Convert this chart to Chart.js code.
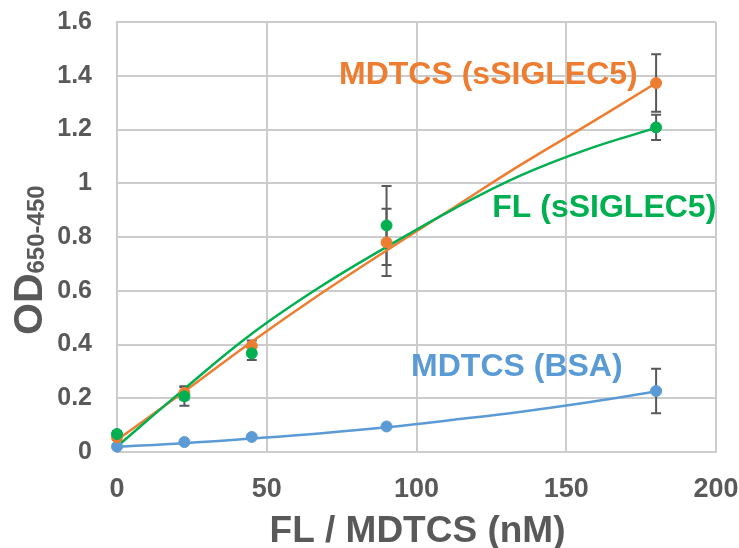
<!DOCTYPE html>
<html>
<head>
<meta charset="utf-8">
<script src="https://cdn.jsdelivr.net/npm/chart.js@4.4.1/dist/chart.umd.min.js"></script>
<style>
  html, body { margin: 0; padding: 0; background: #fff; }
  #wrap { width: 739px; height: 548px; }
</style>
</head>
<body>
<div id="wrap"><canvas id="chart"></canvas></div>
<script>
// measured points (nM vs OD)
const concentrations = [0, 22.5, 45, 90, 180];
const mdtcsSiglec5 = [0.055, 0.22, 0.395, 0.78, 1.373];
const mdtcsSiglec5Err = [0.01, 0.025, 0.02, 0.125, 0.107];
const flSiglec5 = [0.067, 0.207, 0.367, 0.843, 1.208];
const flSiglec5Err = [0.01, 0.035, 0.025, 0.147, 0.047];
const mdtcsBsa = [0.02, 0.037, 0.056, 0.095, 0.227];
const mdtcsBsaErr = [0, 0, 0, 0, 0.083];

// trend lines
const fitX = [0, 22.5, 45, 67.5, 90, 112.5, 135, 157.5, 180];
const mdtcsSiglec5Fit = [0.045, 0.225, 0.41, 0.585, 0.75, 0.91, 1.07, 1.22, 1.373];
const flSiglec5Fit = [0.02, 0.235, 0.44, 0.612, 0.763, 0.905, 1.03, 1.128, 1.206];
const mdtcsBsaFit = [0.02, 0.033, 0.05, 0.069, 0.092, 0.12, 0.15, 0.185, 0.225];

const seriesNames = ['MDTCS (sSIGLEC5)', 'FL (sSIGLEC5)', 'MDTCS (BSA)'];
const seriesColors = ['#ED7D31', '#00B050', '#5B9BD5'];

const xTicks = [0, 50, 100, 150, 200];
const yTicks = [0, 0.2, 0.4, 0.6, 0.8, 1, 1.2, 1.4, 1.6];
const xTitle = 'FL / MDTCS (nM)';

// where the in-plot series labels sit (data units, label centre)
const labelAnchors = [[124, 1.403], [162.7, 0.908], [133.5, 0.316]];

const textColor = '#595959';
const gridColor = '#cccccc';
const boldFont = '"Liberation Sans", Arial, sans-serif';

const pts = (xs, ys) => xs.map((x, i) => ({ x: x, y: ys[i] }));

const errorSets = [
  { values: mdtcsSiglec5, err: mdtcsSiglec5Err },
  { values: flSiglec5, err: flSiglec5Err },
  { values: mdtcsBsa, err: mdtcsBsaErr }
];

const errorBars = {
  id: 'errorBars',
  beforeDatasetsDraw(chart) {
    const ctx = chart.ctx, xs = chart.scales.x, ys = chart.scales.y;
    ctx.save();
    ctx.strokeStyle = textColor;
    ctx.lineWidth = 2;
    errorSets.forEach(set => {
      concentrations.forEach((c, i) => {
        if (!set.err[i]) return;
        const px = xs.getPixelForValue(c);
        const top = ys.getPixelForValue(set.values[i] + set.err[i]);
        const bot = ys.getPixelForValue(set.values[i] - set.err[i]);
        ctx.beginPath();
        ctx.moveTo(px, top); ctx.lineTo(px, bot);
        ctx.moveTo(px - 5, top); ctx.lineTo(px + 5, top);
        ctx.moveTo(px - 5, bot); ctx.lineTo(px + 5, bot);
        ctx.stroke();
      });
    });
    ctx.restore();
  }
};

const annotations = {
  id: 'annotations',
  afterDraw(chart) {
    const ctx = chart.ctx, xs = chart.scales.x, ys = chart.scales.y;
    ctx.save();
    ctx.font = 'bold 32px ' + boldFont;
    ctx.textAlign = 'center';
    ctx.textBaseline = 'middle';
    seriesNames.forEach((name, i) => {
      ctx.fillStyle = seriesColors[i];
      ctx.fillText(name, xs.getPixelForValue(labelAnchors[i][0]), ys.getPixelForValue(labelAnchors[i][1]));
    });

    // x tick labels and title
    ctx.fillStyle = textColor;
    ctx.textBaseline = 'alphabetic';
    ctx.font = 'bold 27px ' + boldFont;
    xTicks.forEach(v => ctx.fillText(String(v), xs.getPixelForValue(v), 497));
    ctx.font = 'bold 37px ' + boldFont;
    ctx.fillText(xTitle, (xs.left + xs.right) / 2 + 1, 542);

    // y axis title with subscript
    ctx.translate(42, 335);
    ctx.rotate(-Math.PI / 2);
    ctx.textAlign = 'left';
    ctx.font = 'bold 41px ' + boldFont;
    ctx.fillText('OD', 0, 0);
    const w = ctx.measureText('OD').width;
    ctx.font = 'bold 24px ' + boldFont;
    ctx.fillText('650-450', w, 2);
    ctx.restore();
  }
};

new Chart(document.getElementById('chart'), {
  type: 'scatter',
  data: {
    datasets: [
      { data: pts(concentrations, flSiglec5), backgroundColor: seriesColors[1], borderColor: seriesColors[1], pointRadius: 5.5, showLine: false, clip: false },
      { data: pts(concentrations, mdtcsSiglec5), backgroundColor: seriesColors[0], borderColor: seriesColors[0], pointRadius: 5.5, showLine: false, clip: false },
      { data: pts(concentrations, mdtcsBsa), backgroundColor: seriesColors[2], borderColor: seriesColors[2], pointRadius: 5.5, showLine: false, clip: false },
      { data: pts(fitX, flSiglec5Fit), borderColor: seriesColors[1], borderWidth: 2.5, pointRadius: 0, showLine: true, tension: 0.4, clip: false },
      { data: pts(fitX, mdtcsSiglec5Fit), borderColor: seriesColors[0], borderWidth: 2.5, pointRadius: 0, showLine: true, tension: 0.4, clip: false },
      { data: pts(fitX, mdtcsBsaFit), borderColor: seriesColors[2], borderWidth: 2.5, pointRadius: 0, showLine: true, tension: 0.4, clip: false }
    ]
  },
  options: {
    responsive: true,
    maintainAspectRatio: false,
    animation: false,
    layout: { padding: { top: 22, right: 23, left: 0, bottom: 0 } },
    plugins: { legend: { display: false }, tooltip: { enabled: false } },
    scales: {
      x: {
        type: 'linear',
        min: 0, max: 200,
        afterBuildTicks: s => { s.ticks = xTicks.map(v => ({ value: v })); },
        afterFit: s => { s.height = 96; s.paddingLeft = 0; s.paddingRight = 0; },
        grid: { color: gridColor, lineWidth: 2, drawTicks: false },
        border: { color: gridColor, width: 2 },
        ticks: { display: false }
      },
      y: {
        type: 'linear',
        min: 0, max: 1.6,
        afterBuildTicks: s => { s.ticks = yTicks.map(v => ({ value: v })); },
        afterFit: s => { s.width = 117; s.paddingTop = 0; s.paddingBottom = 0; },
        grid: { color: gridColor, lineWidth: 2, drawTicks: false },
        border: { color: gridColor, width: 2 },
        ticks: {
          color: textColor, padding: 25,
          font: { family: boldFont, size: 25, weight: 'bold' },
          callback: v => String(+v.toFixed(1))
        }
      }
    }
  },
  plugins: [errorBars, annotations]
});
</script>
</body>
</html>
